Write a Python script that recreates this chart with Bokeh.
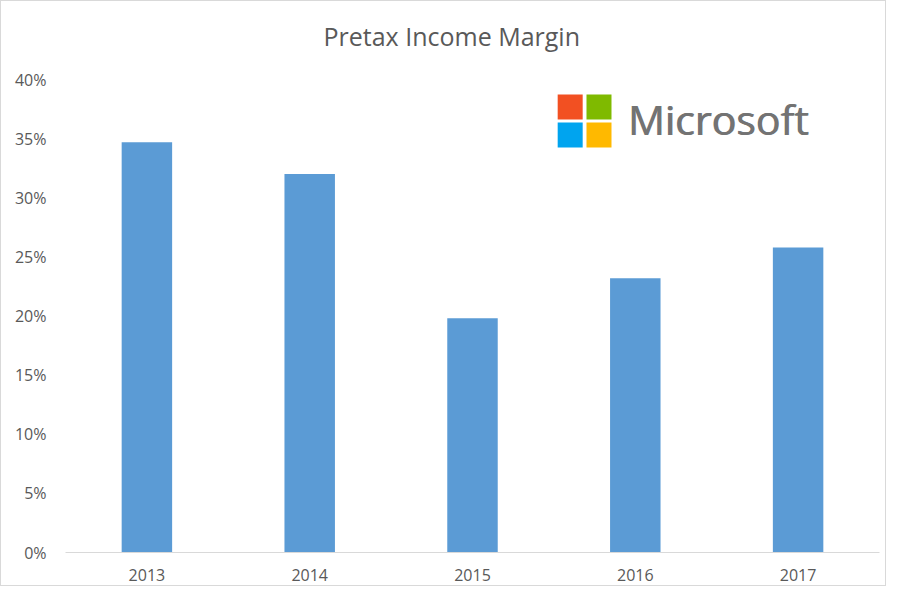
from bokeh.plotting import figure
from bokeh.models import FactorRange, Range1d, NumeralTickFormatter, FixedTicker, ColumnDataSource, Title
from bokeh.embed import file_html
from bokeh.resources import INLINE
from bokeh.core.properties import value

# ---- data ----
years = ["2013", "2014", "2015", "2016", "2017"]
margins = [0.347, 0.320, 0.198, 0.232, 0.258]
y_ticks = [0.0, 0.05, 0.10, 0.15, 0.20, 0.25, 0.30, 0.35, 0.40]
title_text = "Pretax Income Margin"
logo_text = "Microsoft"
logo_colors = ["#F25022", "#7FBA00", "#00A4EF", "#FFB900"]

FONT = "Open Sans"
GRAY = "#595959"

p = figure(width=886, height=586,
           x_range=FactorRange(*years), y_range=Range1d(0, 0.40),
           output_backend="svg", toolbar_location=None,
           min_border_left=64, min_border_right=8,
           min_border_top=78, min_border_bottom=35,
           background_fill_color="white", border_fill_color="white")

# spacer (nearest the frame), then the real title stacked above it
p.add_layout(Title(text=" ", text_font=FONT, text_font_size="10px",
                   text_color="white", standoff=11), "above")
p.add_layout(Title(text=title_text, align="left", offset=258,
                   vertical_align="bottom", standoff=0,
                   text_font=FONT, text_font_size="25px",
                   text_font_style="normal", text_color=GRAY), "above")

p.outline_line_color = None
p.xgrid.grid_line_color = None
p.ygrid.grid_line_color = None

src = ColumnDataSource(dict(year=years, margin=margins))
p.vbar(x="year", top="margin", width=0.31, source=src,
       fill_color="#5B9BD5", line_color=None)

# axes
p.yaxis.ticker = FixedTicker(ticks=y_ticks)
p.yaxis.formatter = NumeralTickFormatter(format="0%")
p.yaxis.axis_line_color = None
p.yaxis.major_tick_line_color = None
p.yaxis.minor_tick_line_color = None
p.yaxis.major_label_standoff = 13
p.xaxis.axis_line_color = "#D9D9D9"
p.xaxis.axis_line_width = 1
p.xaxis.major_tick_line_color = None
p.xaxis.minor_tick_line_color = None
p.xaxis.major_label_standoff = 10
for ax in (p.xaxis, p.yaxis):
    ax.major_label_text_font = FONT
    ax.major_label_text_font_size = "16px"
    ax.major_label_text_color = GRAY

# ---- logo (decoration) ----
lx = [3.100, 3.277, 3.100, 3.277]
ly = [0.3768, 0.3768, 0.3531, 0.3531]
p.rect(x=lx, y=ly, width=25, height=25, width_units="screen", height_units="screen",
       fill_color=logo_colors, line_color=None)
p.text(x=[3.453, 3.453], y=[0.3662, 0.3662], x_offset=[0, 0.9],
       text=[logo_text, logo_text], text_font=value(FONT),
       text_font_size="41px", text_color="#737373",
       text_align="left", text_baseline="alphabetic")

p.styles = {"border": "1px solid #D9D9D9", "box-sizing": "border-box"}

open("out.html", "w").write(file_html(p, INLINE))
